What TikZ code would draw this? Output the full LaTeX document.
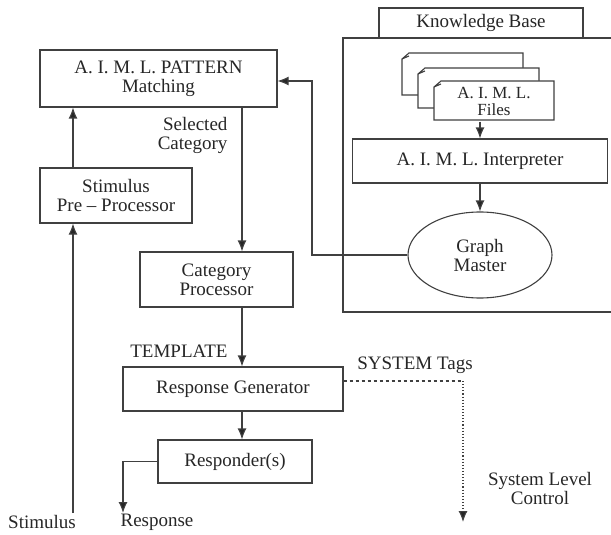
\documentclass[tikz,border=0pt]{standalone}
\usepackage{fontspec}
\setmainfont{Liberation Serif}
\usetikzlibrary{arrows.meta,positioning,shapes.geometric}

\begin{document}
\begin{tikzpicture}[x=1pt, y=-1pt, line width=1.1pt, draw=black!75,
  arr/.style={-{Latex[length=11pt,width=9pt,fill=black!85]}},
  every node/.style={font=\fontsize{19}{19}\selectfont, align=center, inner sep=1pt, text=black!85},
  box/.style={draw, rectangle, fill=white},
  lbl/.style={draw=none, fill=none}]
  \useasboundingbox (0,0) rectangle (611,535);
  % knowledge base
  \draw (343,38) rectangle (614,312);
  \node[box, minimum width=204, minimum height=30] (kbt) at (481,23) {Knowledge Base};
  \foreach \x/\y/\r/\b in {402/53/523/95, 418/68/539/108, 434/81/554/120}
    \draw[fill=white] (\x,\y+6) -- (\x+7,\y) -- (\r,\y) -- (\r,\b) -- (\x,\b) -- cycle
      (\x,\y+6) -- (\x+7,\y+3);
  \node[lbl, minimum width=120, minimum height=39, font=\fontsize{17}{16.5}\selectfont] (files) at (494,101.5) {A. I. M. L.\\Files};
  \node[box, minimum width=255, minimum height=44] (interp) at (480,161) {A. I. M. L. Interpreter};
  \node[draw, ellipse, minimum width=144, minimum height=86, inner sep=0pt] (gm) at (480,255) {Graph\\Master};
  % main chain
  \node[box, minimum width=237, minimum height=57] (pat) at (158.5,78.5) {A. I. M. L. PATTERN\\Matching};
  \node[box, minimum width=152, minimum height=55] (pre) at (116,195.5) {Stimulus\\Pre -- Processor};
  \node[box, minimum width=153, minimum height=55] (cat) at (216.5,279.5) {Category\\Processor};
  \node[box, minimum width=220, minimum height=44] (gen) at (233,389) {Response Generator};
  \node[box, minimum width=154, minimum height=43] (resp) at (235,461.5) {Responder(s)};
  % labels
  \node[lbl, anchor=east, align=right] (selcat) at (229,135) {Selected\\Category};
  \node[lbl, anchor=east] (tmpl) at (229,351) {TEMPLATE};
  \node[lbl] (systags) at (415,365) {SYSTEM Tags};
  \node[lbl] (slc) at (540,488) {System Level\\Control};
  \node[lbl] (stimtxt) at (42,522) {Stimulus};
  \node[lbl] (resptxt) at (157,522) {Response};
  \coordinate (stim) at (73,513);
  \coordinate (sp) at (242,0);
  \coordinate (bend) at (312,81);
  \coordinate (rsp) at (123,513);
  \coordinate (sysend) at (463,522);
  % connectors
  \draw[arr] (stim) -- (stim |- pre.south);
  \draw[arr] (pre.north -| stim) -- (stim |- pat.south);
  \draw[arr] (pat.south -| sp) -- (cat.north -| sp);
  \draw[arr] (cat.south -| sp) -- (gen.north -| sp);
  \draw[arr] (gen.south -| sp) -- (resp.north -| sp);
  \draw[arr] (resp.west) -| (rsp);
  \draw[arr] (files.south -| interp.north) -- (interp.north);
  \draw[arr] (interp.south) -- (gm.north);
  \draw[arr] (gm.west) -| (bend) -- (bend -| pat.east);
  \draw[dashed] ([yshift=8pt]gen.east) coordinate (st) -- (st -| sysend);
  \draw[dotted, arr] (st -| sysend) -- (sysend);
\end{tikzpicture}
\end{document}
